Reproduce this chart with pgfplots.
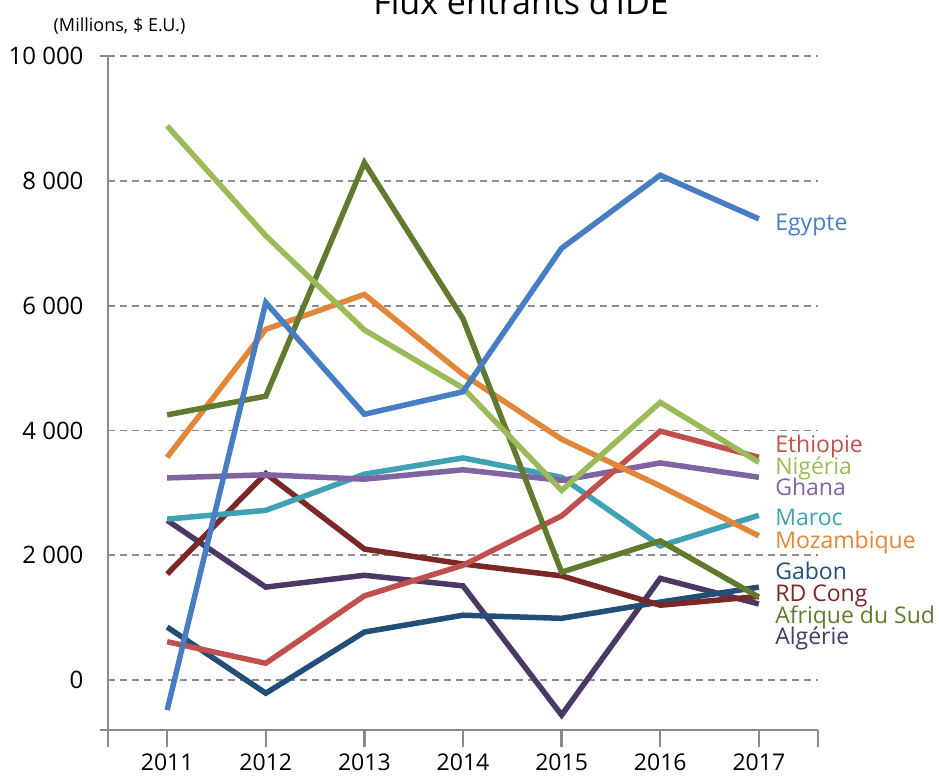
\documentclass[border=0pt]{standalone}
\usepackage{pgfplots}
\pgfplotsset{compat=1.18}
\usepackage{fontspec}
\setmainfont{Open Sans}
\definecolor{axgray}{RGB}{138,138,138}
\definecolor{gridgray}{RGB}{140,140,140}
\definecolor{cEgy}{RGB}{70,125,195}
\definecolor{cNig}{RGB}{155,187,89}
\definecolor{cAfs}{RGB}{98,122,48}
\definecolor{cMoz}{RGB}{226,135,58}
\definecolor{cEth}{RGB}{192,80,77}
\definecolor{cGha}{RGB}{128,100,162}
\definecolor{cMar}{RGB}{64,160,180}
\definecolor{cRdc}{RGB}{122,40,40}
\definecolor{cGab}{RGB}{35,78,120}
\definecolor{cAlg}{RGB}{75,56,100}
\begin{document}
\begin{tikzpicture}
\begin{axis}[
  scale only axis, width=710pt, height=674pt,
  xmin=-0.6, xmax=6.6, ymin=-800, ymax=10000,
  axis x line*=bottom, axis y line*=left,
  axis line style={draw=axgray, line width=2.5pt},
  clip=false,
  scaled y ticks=false, scaled x ticks=false,
  tick align=outside, major tick length=17pt,
  xtick={-0.6,0,1,2,3,4,5,6,6.6},
  xticklabels={{},\mbox{2011},\mbox{2012},\mbox{2013},\mbox{2014},\mbox{2015},\mbox{2016},\mbox{2017},{}},
  xtick style={draw=axgray, line width=2.5pt},
  xticklabel style={font=\fontsize{23}{27}\selectfont, yshift=-3pt},
  ytick={0,2000,4000,6000,8000,10000},
  yticklabels={\mbox{0},\mbox{2 000},\mbox{4 000},\mbox{6 000},\mbox{8 000},\mbox{10 000}},
  ytick style={draw=none},
  yticklabel style={font=\fontsize{24}{28}\selectfont, xshift=-4pt},
  ymajorgrids,
  grid style={draw=gridgray, line width=1.8pt, dash pattern=on 7pt off 5pt},
  every axis plot/.append style={line width=5.5pt, line join=miter, mark=none},
]
\addplot[cAlg] coordinates {(0,2560)(1,1490)(2,1680)(3,1510)(4,-560)(5,1630)(6,1220)};
\addplot[cGab] coordinates {(0,850)(1,-210)(2,770)(3,1040)(4,990)(5,1250)(6,1490)};
\addplot[cRdc] coordinates {(0,1700)(1,3310)(2,2100)(3,1860)(4,1670)(5,1200)(6,1340)};
\addplot[cMar] coordinates {(0,2580)(1,2720)(2,3300)(3,3560)(4,3250)(5,2150)(6,2640)};
\addplot[cGha] coordinates {(0,3240)(1,3290)(2,3220)(3,3370)(4,3200)(5,3480)(6,3250)};
\addplot[cEth] coordinates {(0,615)(1,270)(2,1350)(3,1840)(4,2630)(5,3990)(6,3570)};
\addplot[cMoz] coordinates {(0,3570)(1,5620)(2,6180)(3,4900)(4,3860)(5,3110)(6,2310)};
\addplot[cAfs] coordinates {(0,4250)(1,4550)(2,8290)(3,5790)(4,1730)(5,2230)(6,1330)};
\addplot[cNig] coordinates {(0,8880)(1,7120)(2,5610)(3,4680)(4,3040)(5,4450)(6,3490)};
\addplot[cEgy] coordinates {(0,-480)(1,6050)(2,4260)(3,4620)(4,6920)(5,8090)(6,7390)};

\begin{scope}[every node/.style={anchor=base west, inner sep=0pt, font=\fontsize{23}{27}\selectfont}]
\node[cEgy] at (axis cs:6.165,7200) {Egypte};
\node[cEth] at (axis cs:6.165,3648) {Ethiopie};
\node[cNig] at (axis cs:6.165,3296) {Nigéria};
\node[cGha] at (axis cs:6.165,2960) {Ghana};
\node[cMar] at (axis cs:6.165,2480) {Maroc};
\node[cMoz] at (axis cs:6.165,2112) {Mozambique};
\node[cGab] at (axis cs:6.165,1616) {Gabon};
\node[cRdc] at (axis cs:6.165,1264) {RD Cong};
\node[cAfs] at (axis cs:6.165,912) {Afrique du Sud};
\node[cAlg] at (axis cs:6.165,576) {Algérie};
\end{scope}
\node[anchor=base, inner sep=0pt, font=\fontsize{34}{40}\selectfont] at (rel axis cs:0.5817,1.0623) {Flux entrants d'IDE};
\node[anchor=base, inner sep=0pt, font=\fontsize{18}{21}\selectfont] at (rel axis cs:0.0162,1.0371) {(Millions, \$ E.U.)};
\draw[axgray, line width=2.5pt] (rel axis cs:0,1) -- (rel axis cs:-0.0113,1);
\draw[axgray, line width=2.5pt] (rel axis cs:0,0) -- (rel axis cs:-0.0113,0);
\coordinate (bbSW) at (rel axis cs:-0.1521,-0.0668);
\coordinate (bbNE) at (rel axis cs:1.1704,1.0831);
\end{axis}
\pgfresetboundingbox
\useasboundingbox (bbSW) rectangle (bbNE);
\end{tikzpicture}
\end{document}
